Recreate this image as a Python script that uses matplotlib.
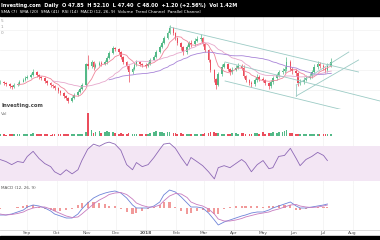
import matplotlib
matplotlib.use("Agg")
import matplotlib.pyplot as plt
import pandas as pd
from matplotlib.patches import Rectangle

# candles every two trading days, Aug 2017 - Jul 2018
dates = pd.bdate_range("2017-08-04", periods=122, freq="2B")

closes = [28, 27, 26, 24, 23, 25, 26, 28, 30, 32,
          33, 35, 38, 35, 33, 32, 29, 27, 25, 24,
          22, 19, 17, 14, 12, 9, 12, 15, 18, 21,
          25, 46, 44, 48, 43, 45, 47, 46, 48, 52,
          57, 62, 61, 58, 53, 48, 44, 38, 41, 45,
          48, 46, 45, 44, 46, 50, 53, 58, 63, 67,
          72, 77, 82, 77, 72, 67, 63, 58, 63, 67,
          66, 69, 71, 72, 66, 60, 50, 40, 31, 25,
          36, 43, 46, 41, 38, 40, 42, 44, 42, 34,
          30, 27, 26, 30, 33, 31, 30, 27, 24, 28,
          32, 35, 38, 39, 41, 48, 41, 39, 37, 27,
          28, 30, 32, 34, 38, 43, 46, 44, 42, 40,
          44, 48]
highs = [30, 29, 28, 27, 25, 27, 28, 30, 32, 34,
         35, 37, 41, 39, 36, 34, 33, 30, 28, 26,
         25, 23, 20, 18, 15, 13, 14, 17, 20, 23,
         27, 47, 55, 50, 49, 47, 49, 49, 50, 54,
         59, 64, 63, 62, 59, 54, 49, 45, 43, 47,
         50, 49, 47, 47, 48, 52, 55, 60, 65, 69,
         74, 79, 85, 83, 78, 73, 68, 64, 65, 69,
         70, 72, 74, 76, 73, 67, 61, 51, 41, 32,
         38, 46, 48, 47, 42, 43, 45, 47, 46, 45,
         35, 31, 29, 32, 36, 35, 33, 31, 28, 30,
         34, 37, 40, 42, 44, 53, 50, 43, 41, 38,
         31, 33, 35, 37, 40, 46, 49, 48, 46, 43,
         47, 52]
lows = [26, 25, 24, 22, 21, 22, 24, 25, 28, 29,
        31, 32, 34, 33, 31, 30, 27, 25, 23, 22,
        20, 17, 15, 12, 10, 7, 8, 11, 14, 17,
        20, 24, 41, 42, 40, 42, 44, 44, 45, 46,
        51, 56, 59, 56, 51, 46, 41, 28, 36, 40,
        44, 44, 43, 42, 43, 45, 50, 52, 57, 62,
        66, 71, 76, 75, 70, 65, 60, 55, 56, 61,
        63, 64, 68, 69, 64, 58, 48, 38, 28, 21,
        24, 34, 42, 39, 35, 36, 39, 41, 40, 32,
        28, 25, 23, 24, 28, 29, 28, 25, 21, 22,
        26, 30, 33, 36, 37, 39, 39, 36, 34, 24,
        25, 26, 29, 31, 32, 36, 41, 42, 40, 37,
        38, 43]
volumes = [1.5, 1.2, 1.0, 1.3, 1.1, 1.4, 1.2, 1.5, 1.6, 1.8,
           1.4, 1.6, 2.2, 1.5, 1.3, 1.2, 1.1, 1.2, 1.0, 1.1,
           1.3, 1.2, 1.5, 1.3, 1.6, 2.0, 1.7, 1.4, 1.5, 1.8,
           2.0, 3.5, 23, 6, 3, 4, 5, 3, 4, 5,
           3.5, 4, 2.5, 2, 2.5, 2, 2, 3, 2, 1.8,
           2, 1.5, 1.6, 1.5, 2, 3, 4, 5, 3.5, 4,
           3, 3.5, 4, 3, 2.5, 2, 3, 2, 2, 1.8,
           1.5, 1.6, 2, 1.5, 1.8, 2.5, 3, 4, 3.5, 2.5,
           3, 2, 1.6, 1.5, 1.8, 2.5, 3, 2, 2.5, 3,
           2, 1.8, 2, 3, 2.5, 2, 3.5, 2, 2.5, 3,
           4, 3, 3.5, 4, 5, 6, 3, 2.5, 2, 2,
           1.6, 1.5, 1.4, 1.5, 1.8, 1.6, 1.5, 1.4, 1.6, 1.5,
           1.8, 1.4]

# RSI / MACD read every second candle
rsi_vals = [54.7, 52.4, 48.8, 52.4, 51.2, 58.2, 64.1, 55.9, 50.0, 46.5,
            40.6, 37.0, 42.9, 38.2, 42.9, 53.5, 66.5, 72.4, 70.0, 73.5,
            74.7, 72.4, 65.3, 48.8, 42.9, 51.2, 46.5, 48.8, 57.0, 66.5,
            72.4, 73.5, 67.6, 57.0, 47.6, 57.0, 52.4, 47.6, 40.6, 32.4,
            45.3, 47.6, 45.3, 50.0, 54.7, 51.2, 40.6, 48.8, 53.5, 44.1,
            45.3, 58.2, 59.4, 67.6, 55.9, 47.6, 54.7, 58.2, 62.9, 59.4,
            53.5]
macd_vals = [-7, -7, -6, -4, -2, 1, 3, 2, 0, -3,
             -6, -8, -10, -10, -6, -1, 5, 10, 13, 15,
             16, 17, 15, 10, 3, 0, 0, 0, 2, 6,
             13, 18, 16, 11, 5, 1, 1, 0, -5, -12,
             -17, -14, -12, -10, -8, -7, -5, -4, -4, -2,
             0, 2, 4, 6, 2, 0, 0, 1, 2, 3,
             4]
signal_vals = [-6, -7, -6.5, -5.5, -4, -2, 0, 1, 1, -1,
               -3, -5.5, -8, -9.5, -9, -6, -1, 4, 8, 11,
               13.5, 15, 15.5, 13.5, 9, 5, 2.5, 1, 1, 3,
               7, 12, 14.5, 14, 10.5, 6, 3.5, 2, -1, -6,
               -11, -13, -13, -12, -10.5, -9, -7.5, -6, -5, -4,
               -2.5, -1, 1, 3, 3.5, 2, 1, 0.5, 1, 2,
               3]

# trend channels drawn on the chart (date, price)
channel_lines = [
    (["2018-01-25", "2018-08-07"], [83, 38]),
    (["2018-03-23", "2018-08-29"], [48, 9]),
    (["2018-03-23", "2018-08-29"], [29, -9]),
    (["2018-06-04", "2018-08-07"], [14, 50]),
    (["2018-06-04", "2018-07-28"], [25, 58]),
    (["2018-06-04", "2018-06-04"], [14, 25]),
]

month_ticks = ["2017-09-01", "2017-10-01", "2017-11-01", "2017-12-01",
               "2018-01-01", "2018-02-01", "2018-03-01", "2018-04-01", "2018-05-01",
               "2018-06-01", "2018-07-01", "2018-08-01"]
month_labels = ["Sep", "Oct", "Nov", "Dec", "2018", "Feb", "Mar", "Apr",
                "May", "Jun", "Jul", "Aug"]

UP = "#53b987"
DOWN = "#eb4d5c"
GRID = "#f2f2f2"
SEP = "#d6d6d6"

s = pd.Series(closes, index=dates)
opens = [closes[0]] + closes[:-1]
colors = [UP if c >= o else DOWN for o, c in zip(opens, closes)]

fig = plt.figure(figsize=(3.8, 2.4), dpi=100)
H = 240.0
def box(top, bottom):
    return [0, 1 - bottom / H, 1, (bottom - top) / H]

ax = fig.add_axes(box(16, 109))
ax_vol = fig.add_axes(box(109, 137), sharex=ax)
ax_rsi = fig.add_axes(box(137, 184), sharex=ax)
ax_macd = fig.add_axes(box(184, 230), sharex=ax)

x0 = pd.Timestamp("2017-08-04")
x1 = pd.Timestamp("2018-08-29")
tick_pos = pd.to_datetime(month_ticks)

for a in (ax, ax_vol, ax_rsi, ax_macd):
    a.set_xlim(x0, x1)
    for sp in ("top", "left", "right"):
        a.spines[sp].set_visible(False)
    a.spines["bottom"].set_color(SEP)
    a.spines["bottom"].set_linewidth(0.6)
    a.tick_params(left=False, labelleft=False, bottom=False, labelbottom=False)
    for t in tick_pos:
        a.axvline(t, color=GRID, lw=0.5, zorder=0)

# price panel
for y in (20, 40, 60, 80):
    ax.axhline(y, color=GRID, lw=0.5, zorder=0)
ax.vlines(dates, lows, highs, colors=colors, lw=0.5, zorder=2)
bodies = [max(abs(c - o), 0.4) for o, c in zip(opens, closes)]
ax.bar(dates, bodies, bottom=[min(o, c) for o, c in zip(opens, closes)],
       width=1.7, color=colors, lw=0, zorder=3)
ax.plot(dates, s.rolling(7).mean(), color="#f0859a", lw=0.6, zorder=4)
ax.plot(dates, s.rolling(20).mean(), color="#e6a8cc", lw=0.6, zorder=4)
ax.plot(dates, s.rolling(41).mean(), color="#a884d8", lw=0.6, zorder=4)
for d, p in channel_lines:
    ax.plot(pd.to_datetime(d), p, color="#9ccbc5", lw=0.6, zorder=5)
ax.set_ylim(1, 94)

# volume panel
ax_vol.bar(dates, volumes, width=1.8, color=colors, lw=0)
ax_vol.set_ylim(-1.5, 26.5)

# RSI panel
ax_rsi.axhspan(30, 70, color="#f3e6f4", lw=0, zorder=0)
ax_rsi.plot(dates[::2], rsi_vals, color="#8d68b5", lw=0.6)
ax_rsi.set_ylim(26.5, 80.6)

# MACD panel
hist = [m - g for m, g in zip(macd_vals, signal_vals)]
ax_macd.bar(dates[::2], hist, width=2.2, color="#f19a9a", lw=0)
ax_macd.plot(dates[::2], macd_vals, color="#6d83d8", lw=0.6)
ax_macd.plot(dates[::2], signal_vals, color="#c77bbf", lw=0.6)
ax_macd.set_ylim(-22, 24)
xt = ax_macd.get_xaxis_transform()
for t, lab in zip(tick_pos, month_labels):
    ax_macd.text(t, -0.07, lab, transform=xt, ha="center", va="center",
                 fontsize=3.2, color="#555555",
                 fontweight="bold" if lab == "2018" else "normal")

# header and footer bars
fig.patches.append(Rectangle((0, 1 - 16 / H), 1, 16 / H, transform=fig.transFigure,
                             color="black", zorder=0))
fig.patches.append(Rectangle((0, 0), 1, 4 / H, transform=fig.transFigure,
                             color="black", zorder=0))
fig.text(0.003, 1 - 5 / H, "Investing.com  Daily  O 47.85  H 52.10  L 47.40  C 48.00  +1.20 (+2.56%)  Vol 1.42M",
         color="white", fontsize=3.6, fontweight="bold", va="center")
fig.text(0.003, 1 - 12 / H, "SMA (7)  SMA (20)  SMA (41)  RSI (14)  MACD (12, 26, 9)  Volume  Trend Channel  Parallel Channel",
         color="white", fontsize=3.0, va="center")

# small labels
fig.text(1 / 380, 1 - 106 / H, "Investing.com", color="#444444", fontsize=3.8,
         fontweight="bold", ha="left", va="center")
fig.text(1 / 380, 1 - 114 / H, "Vol", color="#777777", fontsize=3.2, va="center")
fig.text(1 / 380, 1 - 188 / H, "MACD (12, 26, 9)", color="#555555", fontsize=3.0,
         ha="left", va="center")
for yy, t in ((21, "5"), (27, "1"), (33, "0")):
    fig.text(1 / 380, 1 - yy / H, t, color="#999999", fontsize=3.0, va="center")

fig.savefig("out.png", dpi=100, facecolor="white")
